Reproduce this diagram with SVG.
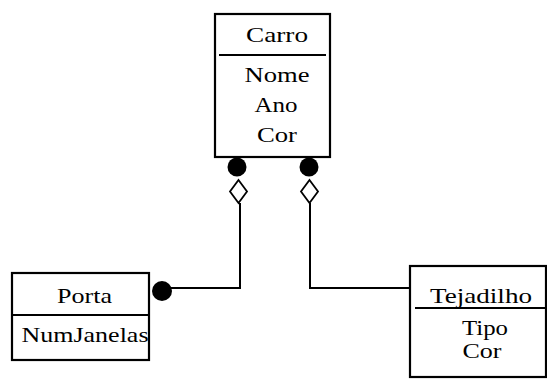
<svg xmlns="http://www.w3.org/2000/svg" width="547" height="379" viewBox="0 0 547 379">
<style>
.box{fill:#fff;stroke:#000;stroke-width:2.2}
.div{stroke:#000;stroke-width:2}
.t{font-family:"Liberation Serif","Times New Roman",serif;font-size:22px;fill:#000;text-anchor:middle}
.s{font-size:20px}
.con{fill:none;stroke:#000;stroke-width:2}
.dot{fill:#000}
.dia{fill:#fff;stroke:#000;stroke-width:1.8}
</style>
<rect width="547" height="379" fill="#fff"/>
<g id="connectors">
<path class="con" d="M240 203 V288 H168"/>
<path class="con" d="M310 203 V288 H410"/>
<circle class="dot" cx="237" cy="167" r="9.5"/>
<circle class="dot" cx="309" cy="167" r="9.5"/>
<polygon class="dia" points="238.5,180 247,191.5 238.5,203 230,191.5"/>
<polygon class="dia" points="309.5,180 318,191.5 309.5,203 301,191.5"/>
<circle class="dot" cx="162" cy="291" r="10"/>
</g>
<g id="carro">
<rect class="box" x="215" y="14" width="115" height="143"/>
<line class="div" x1="219" y1="55" x2="326" y2="55"/>
<text class="t" x="277" y="42" textLength="62" lengthAdjust="spacingAndGlyphs">Carro</text>
<text class="t" x="277" y="82" textLength="65" lengthAdjust="spacingAndGlyphs">Nome</text>
<text class="t" x="276" y="112" textLength="43" lengthAdjust="spacingAndGlyphs">Ano</text>
<text class="t" x="277" y="142" textLength="40" lengthAdjust="spacingAndGlyphs">Cor</text>
</g>
<g id="porta">
<rect class="box" x="12" y="273" width="137" height="87"/>
<line class="div" x1="12" y1="315" x2="149" y2="315"/>
<text class="t" x="84.5" y="303" textLength="55" lengthAdjust="spacingAndGlyphs">Porta</text>
<text class="t" x="85" y="342" textLength="127" lengthAdjust="spacingAndGlyphs">NumJanelas</text>
</g>
<g id="tejadilho">
<rect class="box" x="410" y="266" width="136" height="111"/>
<line class="div" x1="415" y1="308" x2="545" y2="308"/>
<text class="t" x="481" y="303" textLength="102" lengthAdjust="spacingAndGlyphs">Tejadilho</text>
<text class="t s" x="485" y="335" textLength="46" lengthAdjust="spacingAndGlyphs">Tipo</text>
<text class="t s" x="482" y="358" textLength="39" lengthAdjust="spacingAndGlyphs">Cor</text>
</g>
</svg>
